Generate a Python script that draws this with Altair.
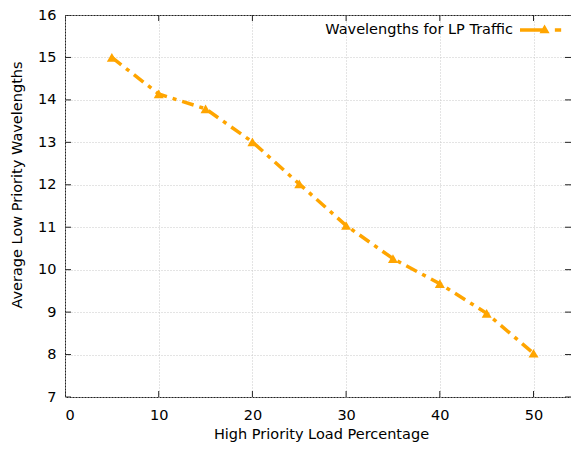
import altair as alt
import pandas as pd

# data
load_pct = [5, 10, 15, 20, 25, 30, 35, 40, 45, 50]
lp_wavelengths = [15.0, 14.14, 13.79, 13.01, 12.02, 11.04, 10.26, 9.67, 8.97, 8.03]
series_name = ["Wavelengths for LP Traffic"] * len(load_pct)

x_ticks = [0, 10, 20, 30, 40, 50]
y_ticks = [7, 8, 9, 10, 11, 12, 13, 14, 15, 16]
x_max = 54
y_min, y_max = 7, 16

ORANGE = "#FFA500"
FONT = "DejaVu Sans"

df = pd.DataFrame({"x": load_pct, "y": lp_wavelengths, "series": series_name})
xt = pd.DataFrame({"v": x_ticks})
yt = pd.DataFrame({"v": y_ticks})

xscale = alt.Scale(domain=[0, x_max], nice=False, zero=False)
yscale = alt.Scale(domain=[y_min, y_max], nice=False, zero=False)

xaxis = alt.Axis(values=x_ticks, title="High Priority Load Percentage", grid=True,
                 gridDash=[1, 2], gridColor="#c8c8c8", domain=False, ticks=False,
                 labelPadding=11, titleBaseline="alphabetic", titleX=256, titleY=41.5,
                 format="d")
yaxis = alt.Axis(values=y_ticks, title="Average Low Priority Wavelengths", grid=True,
                 gridDash=[1, 2], gridColor="#c8c8c8", domain=False, ticks=False,
                 labelPadding=9, titleBaseline="alphabetic", titleX=-44, titleY=169.5,
                 format="d")

legend_path = ("M-1,-0.08H0.2V0.08H-1Z "
               "M0.17,-0.26L0.41,0.16L-0.07,0.16Z "
               "M0.66,-0.08H0.96V0.08H0.66Z")

line = alt.Chart(df).mark_line(color=ORANGE, strokeWidth=3.5, strokeDash=[12, 6, 4, 6]).encode(
    x=alt.X("x:Q", scale=xscale, axis=xaxis),
    y=alt.Y("y:Q", scale=yscale, axis=yaxis),
)

points = alt.Chart(df).mark_point(shape="triangle-up", filled=True, size=100, opacity=1).encode(
    x=alt.X("x:Q", scale=xscale),
    y=alt.Y("y:Q", scale=yscale),
    color=alt.Color("series:N", scale=alt.Scale(range=[ORANGE]),
                    legend=alt.Legend(title=None, orient="none", legendX=455, legendY=-6,
                                      symbolType=legend_path, symbolSize=1764,
                                      symbolFillColor=ORANGE, symbolStrokeWidth=0,
                                      symbolOpacity=1, labelAlign="right",
                                      labelOffset={"expr": "-49"},
                                      labelLimit=400, labelFont=FONT, labelFontSize=14.5,
                                      labelColor="#000000", padding=0)),
)

tick_style = dict(color="#222222", thickness=1, size=12, clip=True, opacity=1)

xt_bottom = alt.Chart(xt).mark_tick(orient="vertical", **tick_style).encode(
    x=alt.X("v:Q", scale=xscale), y=alt.datum(y_min))
xt_top = alt.Chart(xt).mark_tick(orient="vertical", **tick_style).encode(
    x=alt.X("v:Q", scale=xscale), y=alt.datum(y_max))
yt_left = alt.Chart(yt).mark_tick(orient="horizontal", **tick_style).encode(
    y=alt.Y("v:Q", scale=yscale), x=alt.datum(0))
yt_right = alt.Chart(yt).mark_tick(orient="horizontal", **tick_style).encode(
    y=alt.Y("v:Q", scale=yscale), x=alt.datum(x_max))

chart = alt.layer(line, points, xt_bottom, xt_top, yt_left, yt_right).properties(
    width=506, height=382,
    autosize=alt.AutoSizeParams(type="none"),
    padding={"left": 57, "top": 7, "right": 0, "bottom": 45},
    background="white",
).configure_view(
    stroke="#222222", strokeWidth=1
).configure_axis(
    labelFont=FONT, labelFontSize=14.5, labelColor="#000000",
    titleFont=FONT, titleFontSize=14.5, titleColor="#000000", titleFontWeight="normal",
)

chart.save("out.html", embed_options={"renderer": "svg", "actions": False})
